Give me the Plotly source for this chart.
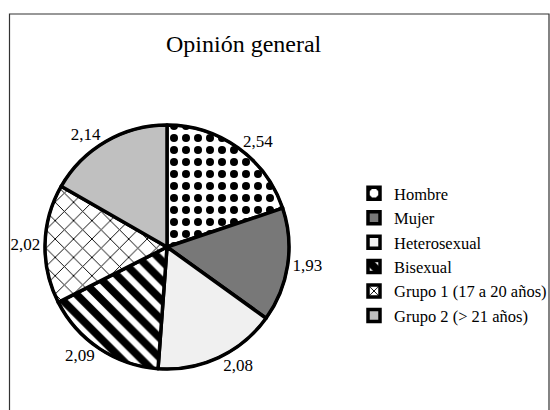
import plotly.graph_objects as go

categories = ["Hombre", "Mujer", "Heterosexual", "Bisexual",
              "Grupo 1 (17 a 20 años)", "Grupo 2 (> 21 años)"]
values = [2.54, 1.93, 2.08, 2.09, 2.02, 2.14]

colors = ["#ffffff", "#787878", "#f0f0f0", "#ffffff", "#ffffff", "#c0c0c0"]
shapes = [".", "", "", "\\", "x", ""]
psizes = [12, 8, 8, 14, 13, 8]
psolid = [0.35, 0.3, 0.3, 0.55, 0.14, 0.3]

SERIF = "Liberation Serif, Times New Roman, Times, serif"
W, H = 640, 410
cx, cy, r = 167, 247, 122

fig = go.Figure(go.Pie(
    labels=categories,
    values=values,
    sort=False,
    direction="clockwise",
    rotation=0,
    textposition="outside",
    texttemplate="%{value:.2f}",
    textfont=dict(family=SERIF, size=17, color="black"),
    marker=dict(colors=colors,
                line=dict(color="black", width=3.5),
                pattern=dict(shape=shapes, fgcolor="black", fgopacity=1,
                             size=psizes, solidity=psolid, fillmode="overlay")),
    domain=dict(x=[(cx - r) / W, (cx + r) / W], y=[1 - (cy + r) / H, 1 - (cy - r) / H]),
    hoverinfo="skip",
))

fig.update_layout(
    width=W, height=H,
    margin=dict(l=0, r=0, t=0, b=0),
    paper_bgcolor="white",
    plot_bgcolor="white",
    separators=",.",
    font=dict(family=SERIF, color="black"),
    showlegend=True,
    legend=dict(x=354 / W, y=1 - 176 / H, xanchor="left", yanchor="top",
                font=dict(family=SERIF, size=16.5, color="black"),
                bgcolor="rgba(0,0,0,0)", itemclick=False),
    annotations=[dict(text="Opinión general", x=244 / W, y=1 - 44 / H,
                      xref="paper", yref="paper", showarrow=False,
                      xanchor="center", yanchor="middle",
                      font=dict(family=SERIF, size=24, color="black"))],
    shapes=[dict(type="rect", xref="paper", yref="paper",
                 x0=9.5 / W, x1=549 / W, y0=-0.05, y1=1 - 14 / H,
                 line=dict(color="#333333", width=1.2)),
            dict(type="circle", xref="paper", yref="paper",
                 x0=(cx - r) / W, x1=(cx + r) / W,
                 y0=1 - (cy + r) / H, y1=1 - (cy - r) / H,
                 line=dict(color="black", width=2.5))],
)

fig.write_html("out.html", config={"displayModeBar": False},
               post_script="document.body.style.margin='0';document.body.style.overflow='hidden';document.documentElement.style.overflow='hidden';")
